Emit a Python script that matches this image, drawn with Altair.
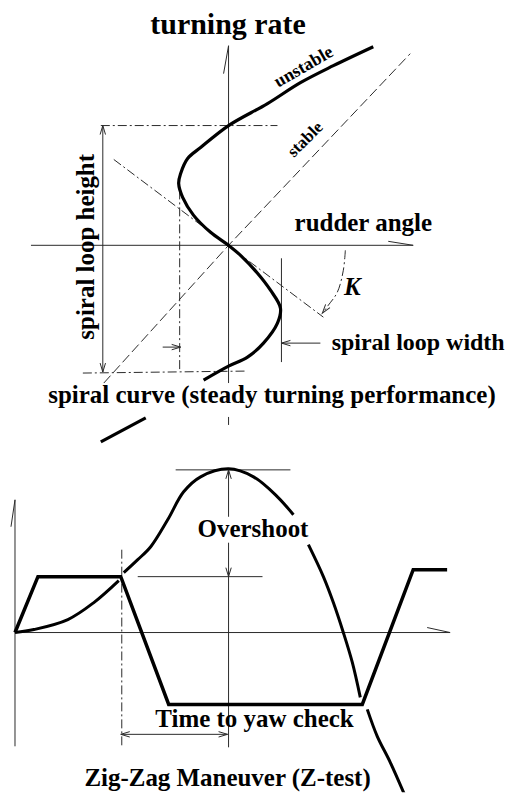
import altair as alt
import pandas as pd

# ================= TOP PANEL: spiral curve (diagram units, origin at axes crossing) =================
# thick "unstable" spiral curve (rudder angle u, turning rate v), two pieces (gap behind caption)
spiral_u = [145, 105, 72, 39, 0, -28, -41, -48, -50, -46, -35, -18, 0, 12, 29, 42, 52, 49, 35, 19, 0, -25, -83, -128]
spiral_v = [199, 180, 163, 142, 120, 98, 87, 72, 62, 48, 30, 13, 0, -10, -28, -45, -63, -78, -98, -112, -121, -135, -173, -197]
spiral_piece = [0] * 22 + [1] * 2

# dashed "stable" line
stable_u = [-125, 0, 182]
stable_v = [-138, 0, 192]

# K arc (dash-dot)
karc_u = [117, 115, 109, 100, 94]
karc_v = [-5, -25, -47, -60, -68]

# thin solid segments: axes, arrow shafts, guide lines
top_solid_u1 = [0, 0, 0, -198, 160, -126, 53, -66, 92]
top_solid_v1 = [200, -172, 200, 0, 4, 120, -13, -102, -98]
top_solid_u2 = [0, 0, -5, 185, 185, -126, 53, -48, 53]
top_solid_v2 = [-138, -180, 172, 0, 0, -127, -117, -102, -98]

# thin dash-dot segments: loop height guides, loop width guide, K (tangent) line
top_dash_u1 = [-128, -146, -49, -115]
top_dash_v1 = [120, -128, 55, 86]
top_dash_u2 = [49, 19, -49, 95]
top_dash_v2 = [120, -126, -126, -72]

# arrow tips (position and pointing direction in degrees, 0 = up)
top_tip_u = [-126, -126, -48, 53, 94]
top_tip_v = [120, -127, -102, -98, -68]
top_tip_ang = [0, 180, 90, 270, 217]

# labels
top_text = ["turning rate", "rudder angle", "spiral loop height", "spiral loop width",
            "spiral curve (steady turning performance)"]
top_text_u = [-0.5, 135, -135, 190, 43.5]
top_text_v = [212, 14, -1.5, -105, -158]
top_text_ang = [0, 0, 270, 0, 0]
top_text_fs = [30, 25, 25, 24, 25]

curve_text = ["unstable", "stable"]
curve_text_u = [75.5, 77]
curve_text_v = [178.5, 106]
curve_text_ang = [330, 315]
curve_text_fs = [18, 17]

k_text = ["K"]
k_text_u = [124]
k_text_v = [-50]

# ================= BOTTOM PANEL: zig-zag manoeuvre (time t, angle h) =================
rudder_t = [0, 23, 106, 154, 348, 399, 433]
rudder_h = [0, 56, 56, -72, -72, 63, 63]

heading_t = [0, 19, 53, 79, 104,
             109, 123, 136, 153, 169, 186, 214, 239, 263, 279,
             294, 309, 319, 329, 338, 346,
             353, 363, 376, 391]
heading_h = [0, 3, 13, 30, 52,
             60, 73, 86, 113, 141, 156, 164, 156, 136, 118,
             88, 56, 30, 0, -30, -65,
             -77, -104, -130, -164]
heading_piece = [0] * 5 + [1] * 10 + [2] * 6 + [3] * 4

bot_solid_t1 = [0, 0, 0, 413, 161, 214, 214, 123, 106]
bot_solid_h1 = [133, 133, 0, 5, 163, 163, 90, 56, -102]
bot_solid_t2 = [0, -4, 436, 436, 276, 214, 214, 248, 213]
bot_solid_h2 = [-114, 106, 0, 0, 163, 116, -115, 56, -102]

bot_dash_t1 = [107]
bot_dash_h1 = [83]
bot_dash_t2 = [107]
bot_dash_h2 = [-115]

bot_tip_t = [214, 214, 106, 213]
bot_tip_h = [163, 56, -102, -102]
bot_tip_ang = [0, 180, 270, 90]

bot_text = ["Overshoot", "Time to yaw check", "Zig-Zag Maneuver (Z-test)"]
bot_text_t = [238.5, 240, 213]
bot_text_h = [96, -95, -154]
bot_text_fs = [25, 25, 25]

# ================= build =================
FONT = "Liberation Serif"
INK = "#000000"
THIN = "#2a2a2a"
ARROW = "M-0.6,2L0,0L0.6,2"
DASHDOT = [9, 3, 2, 3]

xs_top = alt.Scale(domain=[-220, 280], nice=False, zero=False)
ys_top = alt.Scale(domain=[-213, 237], nice=False, zero=False)
xs_bot = alt.Scale(domain=[-6, 494], nice=False, zero=False)
ys_bot = alt.Scale(domain=[-160, 175], nice=False, zero=False)


def polyline(us, vs, pieces, xs, ys, **mk):
    df = pd.DataFrame({"a": us, "b": vs, "piece": pieces, "i": list(range(len(us)))})
    return alt.Chart(df).mark_line(**mk).encode(
        x=alt.X("a:Q", scale=xs, axis=None),
        y=alt.Y("b:Q", scale=ys, axis=None),
        detail="piece:N",
        order="i:Q",
    )


def segments(a1, b1, a2, b2, xs, ys, **mk):
    df = pd.DataFrame({"a": a1, "b": b1, "a2": a2, "b2": b2})
    return alt.Chart(df).mark_rule(**mk).encode(
        x=alt.X("a:Q", scale=xs, axis=None),
        y=alt.Y("b:Q", scale=ys, axis=None),
        x2="a2:Q",
        y2="b2:Q",
    )


def tips(a, b, ang, xs, ys):
    df = pd.DataFrame({"a": a, "b": b, "ang": ang})
    return alt.Chart(df).mark_point(shape=ARROW, filled=False, stroke=THIN, strokeWidth=1,
                                     opacity=1, size=81).encode(
        x=alt.X("a:Q", scale=xs, axis=None),
        y=alt.Y("b:Q", scale=ys, axis=None),
        angle=alt.Angle("ang:Q", scale=None),
    )


def texts(labels, a, b, ang, fs, xs, ys, baseline="alphabetic", style="normal"):
    df = pd.DataFrame({"label": labels, "a": a, "b": b, "ang": ang, "fs": fs})
    return alt.Chart(df).mark_text(font=FONT, fontWeight="bold", fontStyle=style, color=INK,
                                    align="center", baseline=baseline).encode(
        x=alt.X("a:Q", scale=xs, axis=None),
        y=alt.Y("b:Q", scale=ys, axis=None),
        text="label:N",
        angle=alt.Angle("ang:Q", scale=None),
        size=alt.Size("fs:Q", scale=None),
    )


top = alt.layer(
    segments(top_solid_u1, top_solid_v1, top_solid_u2, top_solid_v2, xs_top, ys_top,
             color=THIN, strokeWidth=1),
    segments(top_dash_u1, top_dash_v1, top_dash_u2, top_dash_v2, xs_top, ys_top,
             color=THIN, strokeWidth=1, strokeDash=DASHDOT),
    polyline(stable_u, stable_v, [0] * len(stable_u), xs_top, ys_top,
             color=THIN, strokeWidth=1, strokeDash=[10, 4]),
    polyline(karc_u, karc_v, [0] * len(karc_u), xs_top, ys_top,
             color=THIN, strokeWidth=1, strokeDash=DASHDOT, interpolate="catmull-rom"),
    polyline(spiral_u, spiral_v, spiral_piece, xs_top, ys_top,
             color=INK, strokeWidth=3.2, interpolate="catmull-rom"),
    tips(top_tip_u, top_tip_v, top_tip_ang, xs_top, ys_top),
    texts(top_text, top_text_u, top_text_v, top_text_ang, top_text_fs, xs_top, ys_top),
    texts(curve_text, curve_text_u, curve_text_v, curve_text_ang, curve_text_fs, xs_top, ys_top,
          baseline="middle"),
    texts(k_text, k_text_u, k_text_v, [0], [25], xs_top, ys_top, style="italic"),
).properties(width=500, height=450)

bottom = alt.layer(
    segments(bot_solid_t1, bot_solid_h1, bot_solid_t2, bot_solid_h2, xs_bot, ys_bot,
             color=THIN, strokeWidth=1),
    segments(bot_dash_t1, bot_dash_h1, bot_dash_t2, bot_dash_h2, xs_bot, ys_bot,
             color=THIN, strokeWidth=1, strokeDash=DASHDOT),
    polyline(rudder_t, rudder_h, [0] * len(rudder_t), xs_bot, ys_bot,
             color=INK, strokeWidth=3.5, strokeJoin="miter"),
    polyline(heading_t, heading_h, heading_piece, xs_bot, ys_bot,
             color=INK, strokeWidth=3, interpolate="catmull-rom", clip=True),
    tips(bot_tip_t, bot_tip_h, bot_tip_ang, xs_bot, ys_bot),
    texts(bot_text, bot_text_t, bot_text_h, [0, 0, 0], bot_text_fs, xs_bot, ys_bot),
).properties(width=500, height=335)

chart = alt.vconcat(top, bottom, spacing=0, bounds="flush").properties(
    padding=0, background="white"
).configure_view(stroke=None)

chart.save("out.html", embed_options={"renderer": "svg", "actions": False})
